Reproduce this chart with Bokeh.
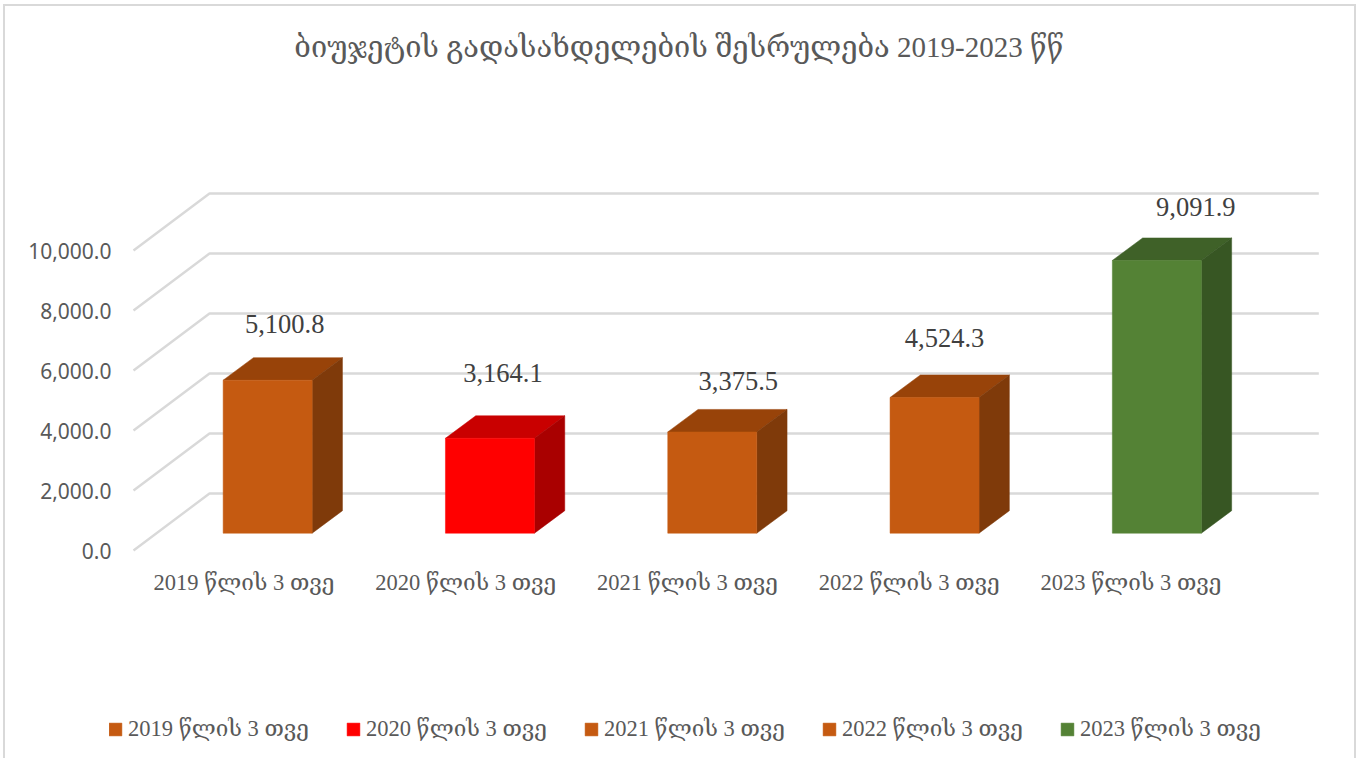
from bokeh.plotting import figure
from bokeh.models import (ColumnDataSource, FixedTicker, NumeralTickFormatter, Legend, LegendItem,
                          Range1d)
from bokeh.core.properties import value as V
from bokeh.embed import file_html
from bokeh.resources import INLINE

categories = ["2019 წლის 3 თვე", "2020 წლის 3 თვე", "2021 წლის 3 თვე", "2022 წლის 3 თვე", "2023 წლის 3 თვე"]
values = [5100.8, 3164.1, 3375.5, 4524.3, 9091.9]
value_labels = ["5,100.8", "3,164.1", "3,375.5", "4,524.3", "9,091.9"]
y_ticks = [0, 2000, 4000, 6000, 8000, 10000]
title_text = "ბიუჯეტის გადასახდელების შესრულება 2019-2023 წწ"

front_colors = ["#C55A11", "#FF0000", "#C55A11", "#C55A11", "#548235"]
top_colors = ["#984309", "#C90000", "#984309", "#984309", "#3F6128"]
side_colors = ["#7F3A0A", "#A90000", "#7F3A0A", "#7F3A0A", "#375623"]
label_dx = [17, 13, 26, 10, 39]
label_dy = [-56, -65, -51, -59, -53]

SERIF = "Liberation Serif, DejaVu Serif, DejaVu Sans"
GRID = "#D9D9D9"

# layout in pixels
W, H = 1360, 758
FL, FR, FT, FB = 109, 1330, 0, H   # the frame runs to the page's top and bottom
AXIS_Y = 558            # where the category axis sits
X0, Y0 = 133, 550       # front-left of floor
SLOT = 222.3            # px per category
PXV = 0.03              # px per value unit
WALL_DX, WALL_DY = 76 / SLOT, 57 / PXV
BAR_DX, BAR_DY = 30.3 / SLOT, 22.5 / PXV
INSET_DX, INSET_DY = 23 / SLOT, 17.3 / PXV
BAR_W = 89 / SLOT
RIGHT_END = (1318.3 - 209) / SLOT


def bar_stripe(x, y, w, h):
    return f"linear-gradient({GRID},{GRID}) {x}px {y}px / {w} {h} no-repeat"


frame_css = ", ".join([bar_stripe(3, 4, "2px", "100%"),
                       bar_stripe(3, 4, "1353px", "2px"),
                       bar_stripe(1354, 4, "2px", "100%")])

p = figure(width=W, height=H, output_backend="svg", toolbar_location=None,
           x_range=Range1d((FL - X0) / SLOT, (FR - X0) / SLOT),
           y_range=Range1d((Y0 - FB) / PXV, (Y0 - FT) / PXV),
           min_border_left=FL, min_border_right=W - FR, min_border_top=0, min_border_bottom=0,
           outline_line_color=None, background_fill_color=None, border_fill_color=None,
           styles={"position": "absolute", "left": "0px", "top": "0px", "background": frame_css})
p.grid.visible = False

# title sits inside the frame's upper part
p.text([(678.5 - X0) / SLOT], [(Y0 - 46.5) / PXV], text=[title_text],
       text_align="center", text_baseline="middle", text_color="#595959",
       text_font=V(SERIF), text_font_size="29px")

# axes
p.yaxis.ticker = FixedTicker(ticks=y_ticks)
p.yaxis.formatter = NumeralTickFormatter(format="0,0.0")
p.yaxis.axis_line_color = None
p.yaxis.major_tick_line_color = None
p.yaxis.minor_tick_line_color = None
p.yaxis.major_tick_out = 0
p.yaxis.major_label_text_font = "Noto Sans"
p.yaxis.major_label_text_font_size = "21px"
p.yaxis.major_label_text_color = "#595959"
p.yaxis.major_label_standoff = -2

ticks = [(243.5 + 221.75 * i - X0) / SLOT for i in range(len(categories))]
p.xaxis.ticker = FixedTicker(ticks=ticks)
p.xaxis.major_label_overrides = dict(zip(ticks, categories))
p.xaxis.fixed_location = (Y0 - AXIS_Y) / PXV
p.xaxis.axis_line_color = None
p.xaxis.major_tick_line_color = None
p.xaxis.minor_tick_line_color = None
p.xaxis.major_label_text_font = SERIF
p.xaxis.major_label_text_font_size = "22.5px"
p.xaxis.major_label_text_color = "#595959"
p.xaxis.major_label_standoff = 5

# grid lines: floor/wall edge, then along the back wall
for t in y_ticks:
    p.line([0, WALL_DX, WALL_DX + RIGHT_END], [t, t + WALL_DY, t + WALL_DY],
           line_color=GRID, line_width=2.4)

# bars
items = []
for i, v in enumerate(values):
    left = i + (1 - BAR_W) / 2 + INSET_DX
    right = left + BAR_W
    base = INSET_DY
    p.patch([left, right, right + BAR_DX, left + BAR_DX],
            [base + v, base + v, base + v + BAR_DY, base + v + BAR_DY],
            fill_color=top_colors[i], line_color=top_colors[i], line_width=0.5)
    p.patch([right, right + BAR_DX, right + BAR_DX, right],
            [base, base + BAR_DY, base + v + BAR_DY, base + v],
            fill_color=side_colors[i], line_color=side_colors[i], line_width=0.5)
    r = p.quad(left=left, right=right, bottom=base, top=base + v,
               fill_color=front_colors[i], line_color=front_colors[i], line_width=0.5)
    items.append(LegendItem(label=categories[i], renderers=[r]))

src = ColumnDataSource(dict(
    x=[i + (1 - BAR_W) / 2 + INSET_DX + BAR_W / 2 for i in range(len(values))],
    y=[INSET_DY + v for v in values],
    t=value_labels, dx=label_dx, dy=label_dy))
p.text("x", "y", text="t", x_offset="dx", y_offset="dy", source=src,
       text_align="center", text_baseline="middle", text_color="#404040",
       text_font=V("Liberation Serif"), text_font_size="26.5px")

legend = Legend(items=items, orientation="horizontal", location=(-2, 16),
                border_line_color=None, background_fill_alpha=0,
                glyph_width=16, glyph_height=16, label_standoff=5, spacing=36,
                padding=0, margin=0,
                label_text_font=SERIF, label_text_font_size="22.5px", label_text_color="#595959")
p.add_layout(legend, "center")

open("out.html", "w").write(file_html(p, INLINE))
